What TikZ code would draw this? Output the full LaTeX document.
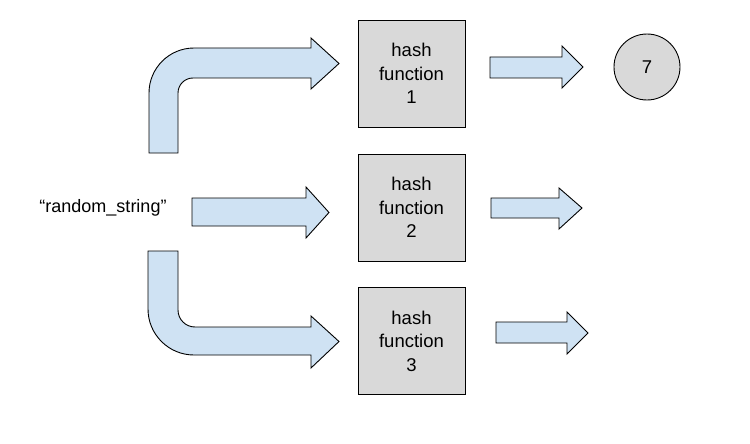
\documentclass[tikz,border=0pt]{standalone}
\usepackage{fontspec}
\setmainfont{Liberation Sans}
\definecolor{arrowblue}{HTML}{CFE2F3}
\definecolor{boxgray}{HTML}{D9D9D9}
\begin{document}
\begin{tikzpicture}[x=1pt,y=-1pt,
  blockarrow/.style={draw=black,fill=arrowblue,line width=0.9pt,line join=miter},
  hashbox/.style={draw=black,fill=boxgray,line width=0.9pt,minimum width=107pt,minimum height=107pt,
    align=center,font=\fontsize{18.5}{23.5}\selectfont,inner sep=0pt},
  result/.style={draw=black,fill=boxgray,line width=0.9pt,circle,minimum size=66pt,inner sep=0pt,
    font=\fontsize{18.5}{22}\selectfont},
  label/.style={font=\fontsize{18}{22}\selectfont,inner sep=0pt}]
\useasboundingbox (0,0) rectangle (750,444);

% input text
\node[label] (input) at (103,208) {“random\_string”};

% hash function boxes
\node[hashbox] (h1) at (411.5,73.5) {hash\\function\\1};
\node[hashbox] (h2) at (411.5,207.5) {hash\\function\\2};
\node[hashbox] (h3) at (411.5,341) {hash\\function\\3};

% result circle
\node[result] (r1) at (647,67) {7};

% top bent arrow
\draw[blockarrow] (149,153) -- (149,93)
  .. controls (149,68.15) and (169.15,48) .. (194,48)
  -- (311,48) -- (311,38) -- (339,63.5) -- (311,89) -- (311,78) -- (193,78)
  .. controls (184.7,78) and (178,84.7) .. (178,93)
  -- (178,153) -- cycle;

% middle straight arrow
\draw[blockarrow] (192,198) -- (306,198) -- (306,187) -- (329,212.5) -- (306,238) -- (306,226) -- (192,226) -- cycle;

% bottom bent arrow
\draw[blockarrow] (148,251) -- (148,309)
  .. controls (148,334.4) and (168.6,355) .. (194,355)
  -- (311,355) -- (311,368) -- (339,341.5) -- (311,316) -- (311,327) -- (195,327)
  .. controls (185.6,327) and (178,319.4) .. (178,310)
  -- (178,251) -- cycle;

% output arrows
\draw[blockarrow] (490,57) -- (562,57) -- (562,46) -- (583,67) -- (562,88) -- (562,78) -- (490,78) -- cycle;
\draw[blockarrow] (491,198) -- (559,198) -- (559,188) -- (582,208) -- (559,229) -- (559,218) -- (491,218) -- cycle;
\draw[blockarrow] (496,322) -- (567,322) -- (567,312) -- (588,333) -- (567,354) -- (567,343) -- (496,343) -- cycle;
\end{tikzpicture}
\end{document}
